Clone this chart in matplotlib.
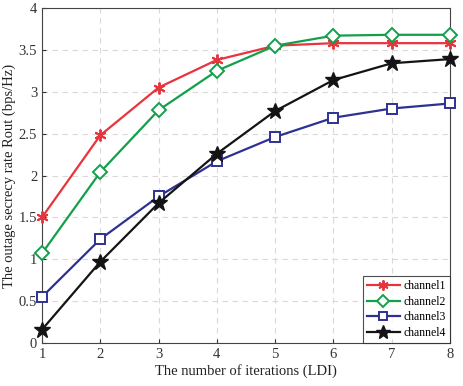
import matplotlib
matplotlib.use("Agg")
import matplotlib.pyplot as plt

iterations = [1, 2, 3, 4, 5, 6, 7, 8]
channel1 = [1.50, 2.48, 3.05, 3.38, 3.55, 3.58, 3.58, 3.58]
channel2 = [1.07, 2.04, 2.78, 3.25, 3.55, 3.67, 3.68, 3.68]
channel3 = [0.55, 1.24, 1.75, 2.17, 2.46, 2.69, 2.80, 2.86]
channel4 = [0.16, 0.97, 1.67, 2.26, 2.77, 3.14, 3.34, 3.39]
labels = ["channel1", "channel2", "channel3", "channel4"]

plt.rcParams["font.family"] = ["Liberation Serif", "DejaVu Serif"]

fig = plt.figure(figsize=(4.64, 3.86), dpi=100)
ax = fig.add_axes([42 / 464, 1 - 343 / 386, 408 / 464, 335 / 386])

ax.plot(iterations, channel1, color="#e8343c", lw=1.6, marker=(6, 2, 0),
        ms=8.5, mew=1.4, label=labels[0], clip_on=False, zorder=3)
ax.plot(iterations, channel2, color="#12a04a", lw=1.6, marker="D",
        ms=7, mew=1.4, mfc="white", label=labels[1], clip_on=False, zorder=3)
ax.plot(iterations, channel3, color="#2e3192", lw=1.6, marker="s",
        ms=6.5, mew=1.4, mfc="white", label=labels[2], clip_on=False, zorder=3)
ax.plot(iterations, channel4, color="#141414", lw=1.6, marker="*",
        ms=12, label=labels[3], clip_on=False, zorder=3)

ax.set_xlim(1, 8)
ax.set_ylim(0, 4)
ax.set_xticks(iterations)
ax.set_yticks([0, 0.5, 1, 1.5, 2, 2.5, 3, 3.5, 4])
ax.set_yticklabels(["0", "0.5", "1", "1.5", "2", "2.5", "3", "3.5", "4"])
ax.grid(True, ls=(0, (5, 4)), color="#d9d9d9", lw=0.8)
for s in ax.spines.values():
    s.set_color("#444444")
    s.set_linewidth(0.8)
ax.tick_params(direction="in", labelsize=10.5, colors="#333333", length=3)

ax.set_xlabel("The number of iterations (LDI)", fontsize=10.5, color="#222222", labelpad=2)
ax.set_ylabel("The outage secrecy rate Rout (bps/Hz)", fontsize=10.5, color="#222222", labelpad=2)

leg = ax.legend(loc="lower right", fontsize=8.5, frameon=True, fancybox=False,
                edgecolor="#222222", borderaxespad=0, handlelength=2.8,
                labelspacing=0.3, borderpad=0.35, handletextpad=0.3,
                markerscale=0.85)
leg.get_frame().set_linewidth(0.8)
leg.set_zorder(5)

fig.savefig("out.png", dpi=100)
